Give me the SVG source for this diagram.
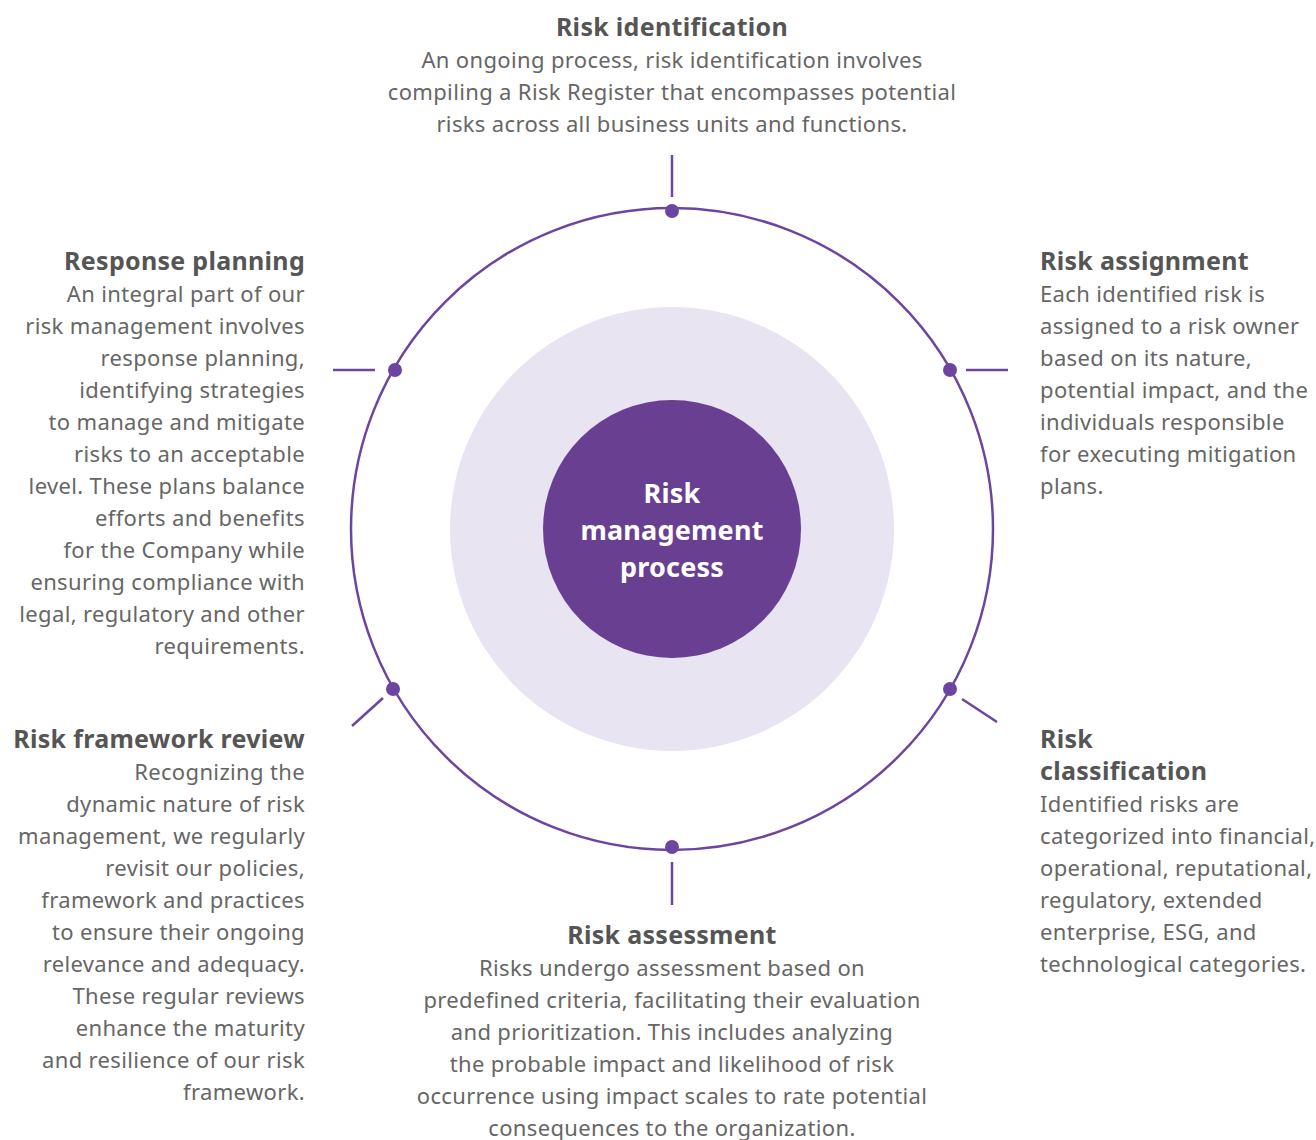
<svg xmlns="http://www.w3.org/2000/svg" width="1316" height="1140" viewBox="0 0 1316 1140">
<style>
.t{font-family:"Noto Sans",sans-serif;font-weight:bold;font-size:25px;fill:#555555;letter-spacing:0.3px}
.b{font-family:"Noto Sans",sans-serif;font-size:22px;fill:#666666;letter-spacing:0.35px}
.c{font-family:"Noto Sans",sans-serif;font-weight:bold;font-size:27px;fill:#ffffff;letter-spacing:0.2px}
.tick{stroke:#6c45a0;stroke-width:2.5;fill:none}
.dot{fill:#6c45a0}
</style>
<rect width="1316" height="1140" fill="#ffffff"/>
<g id="rings">
<circle cx="672" cy="529" r="222" fill="#e8e4f2"/>
<circle cx="672" cy="529" r="321" fill="none" stroke="#6c45a0" stroke-width="2.5"/>
</g>
<g id="center">
<circle cx="672" cy="529" r="129" fill="#693f92"/>
<text class="c" text-anchor="middle"><tspan x="672" y="503">Risk</tspan><tspan x="672" y="540">management</tspan><tspan x="672" y="577">process</tspan></text>
</g>
<g id="connectors">
<line class="tick" x1="672" y1="155" x2="672" y2="197"/>
<line class="tick" x1="966" y1="370" x2="1008" y2="370"/>
<line class="tick" x1="962" y1="699" x2="997" y2="722"/>
<line class="tick" x1="672" y1="862" x2="672" y2="905"/>
<line class="tick" x1="383" y1="698" x2="352" y2="726"/>
<line class="tick" x1="333" y1="370" x2="375" y2="370"/>
<circle class="dot" cx="672" cy="211" r="7"/>
<circle class="dot" cx="950" cy="370" r="7"/>
<circle class="dot" cx="950" cy="689" r="7"/>
<circle class="dot" cx="672" cy="847" r="7"/>
<circle class="dot" cx="393" cy="689" r="7"/>
<circle class="dot" cx="395" cy="370" r="7"/>
</g>
<g id="risk-identification" text-anchor="middle">
<text class="t" x="672" y="36">Risk identification</text>
<text class="b"><tspan x="672" y="68">An ongoing process, risk identification involves</tspan><tspan x="672" y="100">compiling a Risk Register that encompasses potential</tspan><tspan x="672" y="132">risks across all business units and functions.</tspan></text>
</g>
<g id="risk-assignment">
<text class="t" x="1040" y="270">Risk assignment</text>
<text class="b"><tspan x="1040" y="302">Each identified risk is</tspan><tspan x="1040" y="334">assigned to a risk owner</tspan><tspan x="1040" y="366">based on its nature,</tspan><tspan x="1040" y="398">potential impact, and the</tspan><tspan x="1040" y="430">individuals responsible</tspan><tspan x="1040" y="462">for executing mitigation</tspan><tspan x="1040" y="494">plans.</tspan></text>
</g>
<g id="risk-classification">
<text class="t"><tspan x="1040" y="748">Risk</tspan><tspan x="1040" y="780">classification</tspan></text>
<text class="b"><tspan x="1040" y="812">Identified risks are</tspan><tspan x="1040" y="844">categorized into financial,</tspan><tspan x="1040" y="876">operational, reputational,</tspan><tspan x="1040" y="908">regulatory, extended</tspan><tspan x="1040" y="940">enterprise, ESG, and</tspan><tspan x="1040" y="972">technological categories.</tspan></text>
</g>
<g id="risk-assessment" text-anchor="middle">
<text class="t" x="672" y="944">Risk assessment</text>
<text class="b"><tspan x="672" y="976">Risks undergo assessment based on</tspan><tspan x="672" y="1008">predefined criteria, facilitating their evaluation</tspan><tspan x="672" y="1040">and prioritization. This includes analyzing</tspan><tspan x="672" y="1072">the probable impact and likelihood of risk</tspan><tspan x="672" y="1104">occurrence using impact scales to rate potential</tspan><tspan x="672" y="1136">consequences to the organization.</tspan></text>
</g>
<g id="risk-framework-review" text-anchor="end">
<text class="t" x="305" y="748">Risk framework review</text>
<text class="b"><tspan x="305" y="780">Recognizing the</tspan><tspan x="305" y="812">dynamic nature of risk</tspan><tspan x="305" y="844">management, we regularly</tspan><tspan x="305" y="876">revisit our policies,</tspan><tspan x="305" y="908">framework and practices</tspan><tspan x="305" y="940">to ensure their ongoing</tspan><tspan x="305" y="972">relevance and adequacy.</tspan><tspan x="305" y="1004">These regular reviews</tspan><tspan x="305" y="1036">enhance the maturity</tspan><tspan x="305" y="1068">and resilience of our risk</tspan><tspan x="305" y="1100">framework.</tspan></text>
</g>
<g id="response-planning" text-anchor="end">
<text class="t" x="305" y="270">Response planning</text>
<text class="b"><tspan x="305" y="302">An integral part of our</tspan><tspan x="305" y="334">risk management involves</tspan><tspan x="305" y="366">response planning,</tspan><tspan x="305" y="398">identifying strategies</tspan><tspan x="305" y="430">to manage and mitigate</tspan><tspan x="305" y="462">risks to an acceptable</tspan><tspan x="305" y="494">level. These plans balance</tspan><tspan x="305" y="526">efforts and benefits</tspan><tspan x="305" y="558">for the Company while</tspan><tspan x="305" y="590">ensuring compliance with</tspan><tspan x="305" y="622">legal, regulatory and other</tspan><tspan x="305" y="654">requirements.</tspan></text>
</g>
</svg>
